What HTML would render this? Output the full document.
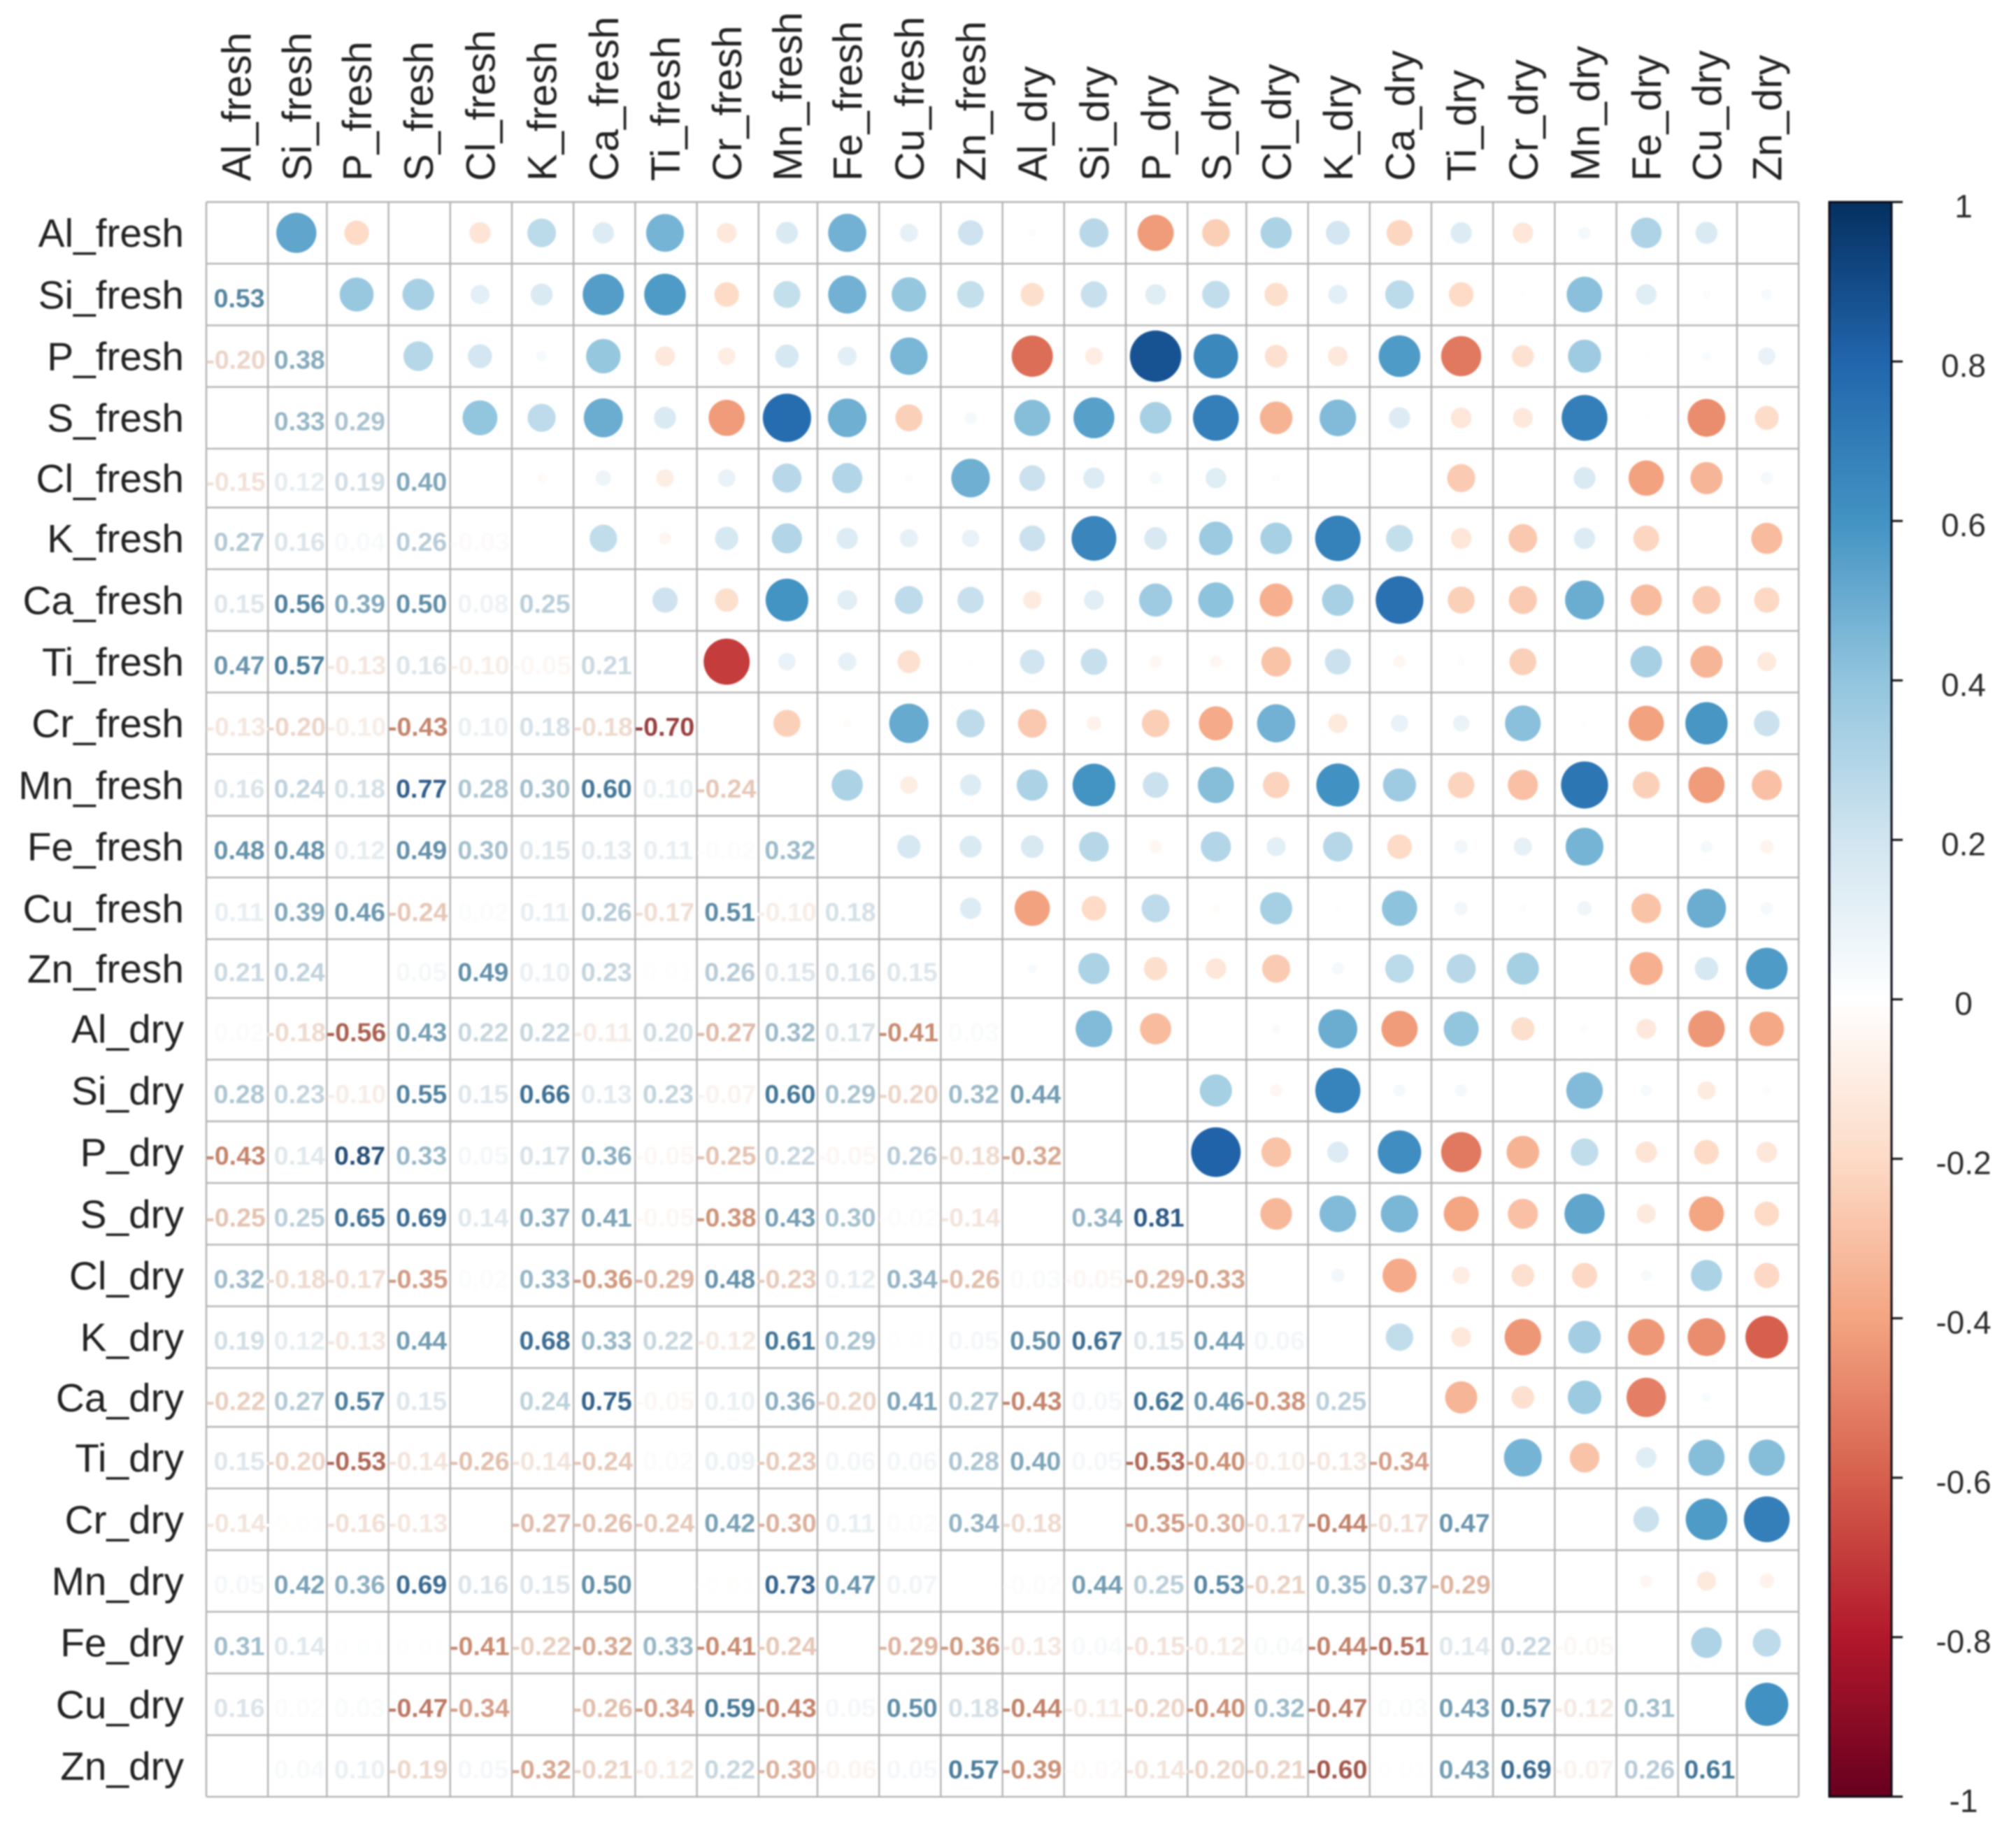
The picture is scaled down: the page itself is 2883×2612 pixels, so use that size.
<!DOCTYPE html>
<html lang="en">
<head>
<meta charset="utf-8">
<title>Correlation matrix</title>
<style>
html,body{margin:0;padding:0;background:#fff;}
#chart{display:block;width:2883px;height:2612px;filter:blur(1.1px);font-family:"Liberation Sans",Arial,sans-serif;}
</style>
</head>
<body>
<svg id="chart" xmlns="http://www.w3.org/2000/svg" width="2883" height="2612" viewBox="0 0 2883 2612">
<defs>
<linearGradient id="bar-gradient" x1="0" y1="1" x2="0" y2="0">
<stop offset="0" stop-color="#67001F"/><stop offset="0.1" stop-color="#B2182B"/><stop offset="0.2" stop-color="#D6604D"/><stop offset="0.3" stop-color="#F4A582"/><stop offset="0.4" stop-color="#FDDBC7"/><stop offset="0.5" stop-color="#FFFFFF"/><stop offset="0.6" stop-color="#D1E5F0"/><stop offset="0.7" stop-color="#92C5DE"/><stop offset="0.8" stop-color="#4393C3"/><stop offset="0.9" stop-color="#2166AC"/><stop offset="1" stop-color="#053061"/>
</linearGradient>
</defs>
<g id="grid"></g>
<g id="marks"></g>
<g id="labels"></g>
<g id="legend">
<rect x="2616" y="289" width="89" height="2281" fill="url(#bar-gradient)" stroke="#0a0a14" stroke-width="3"/>
</g>
</svg>
<script>
const variableNames = ["Al_fresh","Si_fresh","P_fresh","S_fresh","Cl_fresh","K_fresh","Ca_fresh","Ti_fresh","Cr_fresh","Mn_fresh","Fe_fresh","Cu_fresh","Zn_fresh","Al_dry","Si_dry","P_dry","S_dry","Cl_dry","K_dry","Ca_dry","Ti_dry","Cr_dry","Mn_dry","Fe_dry","Cu_dry","Zn_dry"];
const legendTicks = [1,0.8,0.6,0.4,0.2,0,-0.2,-0.4,-0.6,-0.8,-1];
const paletteColors = ["#67001F","#B2182B","#D6604D","#F4A582","#FDDBC7","#FFFFFF","#D1E5F0","#92C5DE","#4393C3","#2166AC","#053061"];
const lowerTriangle = [
[],
[0.53],
[-0.20,0.38],
[0.00,0.33,0.29],
[-0.15,0.12,0.19,0.40],
[0.27,0.16,0.04,0.26,-0.03],
[0.15,0.56,0.39,0.50,0.08,0.25],
[0.47,0.57,-0.13,0.16,-0.10,-0.05,0.21],
[-0.13,-0.20,-0.10,-0.43,0.10,0.18,-0.18,-0.70],
[0.16,0.24,0.18,0.77,0.28,0.30,0.60,0.10,-0.24],
[0.48,0.48,0.12,0.49,0.30,0.15,0.13,0.11,-0.02,0.32],
[0.11,0.39,0.46,-0.24,0.02,0.11,0.26,-0.17,0.51,-0.10,0.18],
[0.21,0.24,0.00,0.05,0.49,0.10,0.23,0.01,0.26,0.15,0.16,0.15],
[0.02,-0.18,-0.56,0.43,0.22,0.22,-0.11,0.20,-0.27,0.32,0.17,-0.41,0.03],
[0.28,0.23,-0.10,0.55,0.15,0.66,0.13,0.23,-0.07,0.60,0.29,-0.20,0.32,0.44],
[-0.43,0.14,0.87,0.33,0.05,0.17,0.36,-0.05,-0.25,0.22,-0.05,0.26,-0.18,-0.32,0.00],
[-0.25,0.25,0.65,0.69,0.14,0.37,0.41,-0.05,-0.38,0.43,0.30,-0.02,-0.14,0.00,0.34,0.81],
[0.32,-0.18,-0.17,-0.35,0.02,0.33,-0.36,-0.29,0.48,-0.23,0.12,0.34,-0.26,0.03,-0.05,-0.29,-0.33],
[0.19,0.12,-0.13,0.44,0.00,0.68,0.33,0.22,-0.12,0.61,0.29,0.01,0.05,0.50,0.67,0.15,0.44,0.06],
[-0.22,0.27,0.57,0.15,0.00,0.24,0.75,-0.05,0.10,0.36,-0.20,0.41,0.27,-0.43,0.05,0.62,0.46,-0.38,0.25],
[0.15,-0.20,-0.53,-0.14,-0.26,-0.14,-0.24,0.02,0.09,-0.23,0.06,0.06,0.28,0.40,0.05,-0.53,-0.40,-0.10,-0.13,-0.34],
[-0.14,-0.01,-0.16,-0.13,0.00,-0.27,-0.26,-0.24,0.42,-0.30,0.11,0.02,0.34,-0.18,0.00,-0.35,-0.30,-0.17,-0.44,-0.17,0.47],
[0.05,0.42,0.36,0.69,0.16,0.15,0.50,0.00,-0.01,0.73,0.47,0.07,0.00,-0.02,0.44,0.25,0.53,-0.21,0.35,0.37,-0.29,0.00],
[0.31,0.14,0.01,0.01,-0.41,-0.22,-0.32,0.33,-0.41,-0.24,0.00,-0.29,-0.36,-0.13,0.04,-0.15,-0.12,0.04,-0.44,-0.51,0.14,0.22,-0.05],
[0.16,0.02,0.03,-0.47,-0.34,0.00,-0.26,-0.34,0.59,-0.43,0.05,0.50,0.18,-0.44,-0.11,-0.20,-0.40,0.32,-0.47,0.03,0.43,0.57,-0.12,0.31],
[0.00,0.04,0.10,-0.19,0.05,-0.32,-0.21,-0.12,0.22,-0.30,-0.06,0.05,0.57,-0.39,-0.02,-0.14,-0.20,-0.21,-0.60,0.01,0.43,0.69,-0.07,0.26,0.61]
];

const NS = "http://www.w3.org/2000/svg";
const plot = {left:295, top:289, right:2572, bottom:2570};
const count = variableNames.length;
const cellSize = 87.6;
function xEdge(i){
  let shrink = 0;
  [1, 9, 16, 24].forEach(function(n){ if (i > n) shrink += 4; });
  return plot.left + 88.2 * i - shrink;
}
function yEdge(i){
  let shrink = 0;
  [4, 12, 19].forEach(function(n){ if (i > n) shrink += 4; });
  return plot.top + 88.2 * i - shrink;
}
function xPos(col){ return (xEdge(col) + xEdge(col + 1)) / 2; }
function yPos(row){ return (yEdge(row) + yEdge(row + 1)) / 2; }
function legendY(value){ return plot.top + (1 - value) / 2 * (plot.bottom - plot.top); }
function radius(value){ return 0.45 * Math.sqrt(Math.abs(value)) * cellSize; }
function hexToRgb(hex){ return [1,3,5].map(function(i){ return parseInt(hex.substr(i,2),16); }); }
function colorRgb(value){
  const t = (Math.max(-1, Math.min(1, value)) + 1) * 5;
  const i = Math.min(9, Math.floor(t));
  const a = hexToRgb(paletteColors[i]);
  const b = hexToRgb(paletteColors[i + 1]);
  return a.map(function(c, k){ return c + (b[k] - c) * (t - i); });
}
function rgbText(c){ return "rgb(" + c.map(Math.round).join(",") + ")"; }
function markColor(value){ return rgbText(colorRgb(value)); }
function textColor(value){
  const size = Math.abs(value);
  const w = Math.min(0.35, size * 0.6);
  const fade = size < 0.35 ? 0.5 * (1 - size / 0.35) : 0;
  return rgbText(colorRgb(value).map(function(c){
    const grey = c * (1 - w) + 68 * w;
    return grey * (1 - fade) + 255 * fade;
  }));
}
function make(tag, attrs, parent, content){
  const el = document.createElementNS(NS, tag);
  Object.keys(attrs).forEach(function(k){ el.setAttribute(k, attrs[k]); });
  if (content !== undefined) el.textContent = content;
  parent.appendChild(el);
  return el;
}

const gridGroup = document.getElementById("grid");
const marksGroup = document.getElementById("marks");
const labelsGroup = document.getElementById("labels");
const legendGroup = document.getElementById("legend");

for (let i = 0; i <= count; i++) {
  const x = xEdge(i);
  const y = yEdge(i);
  const v = make("line", {x1:x, x2:x, y1:plot.top, y2:plot.bottom, stroke:"#b3b3b6", "stroke-width":2.4}, gridGroup);
  
  
  const h = make("line", {x1:plot.left, x2:plot.right, y1:y, y2:y, stroke:"#b3b3b6", "stroke-width":2.4}, gridGroup);
  
  
}

variableNames.forEach(function(name, i){
  const rowLabel = make("text", {x:263, y:yPos(i) + 20, "text-anchor":"end", "font-size":56.8, fill:"#222"}, labelsGroup, name);
  
  
  const cx = xPos(i) + 19.5;
  const colLabel = make("text", {x:cx, y:259, "text-anchor":"start", "font-size":58, fill:"#222", transform:"rotate(-90 " + cx + " 259)"}, labelsGroup, name);
  
  
});

lowerTriangle.forEach(function(rowValues, row){
  rowValues.forEach(function(value, col){
    const label = make("text", {x:xPos(col) + (value < 0 ? -2 : 3), y:yPos(row) + 18, "text-anchor":"middle", "font-size":37.5, "font-weight":"bold", fill:textColor(value)}, marksGroup, value.toFixed(2));
    
    
    const circle = make("circle", {cx:xPos(row) - 1.5, cy:yPos(col), r:radius(value), fill:markColor(value)}, marksGroup);
    
    
  });
});

legendTicks.forEach(function(value){
  const y = legendY(value);
  const tick = make("line", {x1:2705, x2:2721, y1:y, y2:y, stroke:"#111", "stroke-width":3}, legendGroup);
  
  
  const tickLabel = make("text", {x:2808, y:y + 22, "text-anchor":"middle", "font-size":46, fill:"#2a2a2a"}, legendGroup, String(value));
  
  
});
</script>
</body>
</html>
